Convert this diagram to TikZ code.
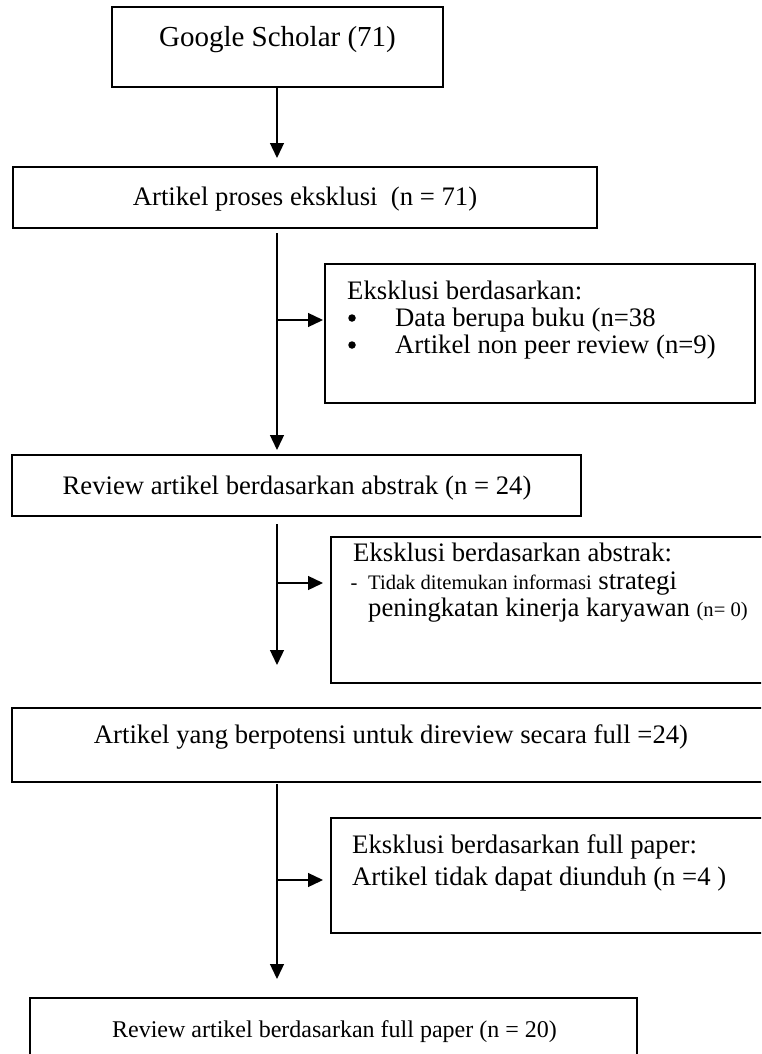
\documentclass[tikz,border=0pt]{standalone}
\usepackage{fontspec}
\setmainfont{Liberation Serif}
\usetikzlibrary{arrows.meta}
\tikzset{
  box/.style={draw, line width=1.7pt, rectangle, inner sep=0pt, outer sep=0pt},
  conn/.style={line width=1.3pt, -{Triangle[width=14pt,length=15pt]}},
  txt/.style={inner sep=0pt, anchor=base west, font=\fontsize{26.7}{28}\selectfont},
  ctxt/.style={inner sep=0pt, anchor=base, font=\fontsize{26.7}{28}\selectfont},
  smalltxt/.style={font=\fontsize{20.6}{22}\selectfont},
  bulletdot/.style={circle, fill, inner sep=0pt, minimum size=7.5pt}
}
\begin{document}
\begin{tikzpicture}[x=1pt,y=-1pt]
\useasboundingbox (0,0) rectangle (761,1054);
\clip (0,0) rectangle (761,1054);
% boxes
\node[box, minimum width=331pt, minimum height=80pt]  (b1) at (277.5,47) {};
\node[box, minimum width=584pt, minimum height=61pt]  (b2) at (305,197.5) {};
\node[box, minimum width=430pt, minimum height=139pt] (e1) at (540,333.5) {};
\node[box, minimum width=569pt, minimum height=61pt]  (b4) at (296.5,485.5) {};
\node[box, minimum width=444pt, minimum height=146pt] (e2) at (553,610) {};
\node[box, minimum width=763pt, minimum height=74pt]  (b6) at (393.5,745) {};
\node[box, minimum width=444pt, minimum height=115pt] (e3) at (553,875.5) {};
\node[box, minimum width=607pt, minimum height=77pt]  (b7) at (333.5,1036.5) {};
% texts
\node[ctxt, font=\fontsize{29}{33}\selectfont] (t1) at (277.5,47) {Google Scholar (71)};
\node[ctxt] (t2) at (305,205) {Artikel proses eksklusi\ \ (n = 71)};
\node[txt] (e1a) at (347,299) {Eksklusi berdasarkan:};
\node[bulletdot] (e1b1) at (352,318) {};
\node[txt] (e1b) at (395,326) {Data berupa buku (n=38};
\node[bulletdot] (e1c1) at (352,345) {};
\node[txt] (e1c) at (395,353) {Artikel non peer review (n=9)};
\node[ctxt] (t4) at (297,494) {Review artikel berdasarkan abstrak (n = 24)};
\node[txt] (e2a) at (353,561) {Eksklusi berdasarkan abstrak:};
\node[txt, smalltxt, anchor=base] (e2b1) at (354,589) {-};
\node[txt] (e2b) at (368,589) {{\fontsize{20.6}{22}\selectfont Tidak ditemukan informasi} strategi};
\node[txt] (e2c) at (368,616) {peningkatan kinerja karyawan {\fontsize{20.6}{22}\selectfont (n= 0)}};
\node[ctxt] (t6) at (391,743) {Artikel yang berpotensi untuk direview secara full =24)};
\node[txt] (e3a) at (352,853) {Eksklusi berdasarkan full paper:};
\node[txt] (e3b) at (352,885) {Artikel tidak dapat diunduh (n =4 )};
\node[ctxt, font=\fontsize{24}{26}\selectfont] (t7) at (334.5,1037) {Review artikel berdasarkan full paper (n = 20)};
% connectors
\coordinate (sp) at (277,0);
\draw[conn, shorten >=9pt] (sp |- b1.south) -- (sp |- b2.north);
\draw[conn, shorten <=5pt, shorten >=5pt] (sp |- b2.south) -- (sp |- b4.north);
\coordinate (j1) at (277,320);
\draw[conn, shorten >=2pt] (j1) -- (j1 -| e1.west);
\draw[conn, shorten <=8pt, shorten >=43pt] (sp |- b4.south) -- (sp |- b6.north);
\coordinate (j2) at (277,583);
\draw[conn, shorten >=8pt] (j2) -- (j2 -| e2.west);
\draw[conn, shorten <=2pt, shorten >=19pt] (sp |- b6.south) -- (sp |- b7.north);
\coordinate (j3) at (277,880);
\draw[conn, shorten >=8pt] (j3) -- (j3 -| e3.west);
\end{tikzpicture}
\end{document}
